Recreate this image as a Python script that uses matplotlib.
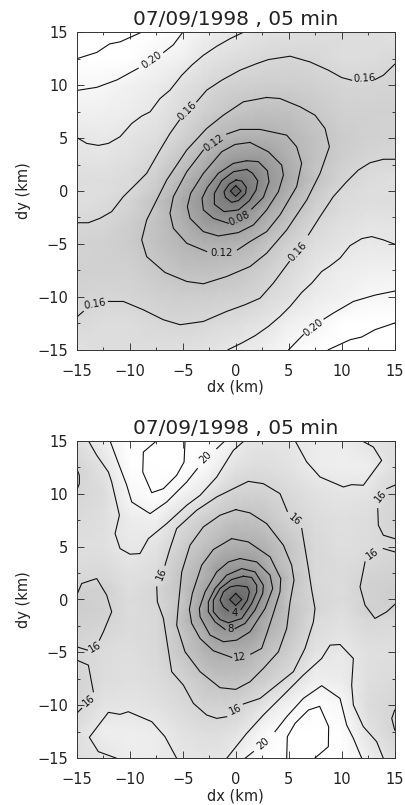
import numpy as np
import matplotlib
matplotlib.use("Agg")
import matplotlib.pyplot as plt
from matplotlib.ticker import MultipleLocator

title = "07/09/1998 , 05 min"
grid_x = [-15, -12.5, -10, -7.5, -5, -3, -2, -1, 0, 1, 2, 3, 5, 7.5, 10, 12.5, 15]
grid_y = [15, 12.5, 10, 7.5, 5, 3, 2, 1, 0, -1, -2, -3, -5, -7.5, -10, -12.5, -15]

# upper panel, gray field, rows go from dy=15 down to dy=-15
field_top = [
    [.24, .23, .225, .215, .20, .19, .186, .183, .18, .178, .175, .173, .17, .168, .167, .167, .172],
    [.22, .213, .21, .197, .19, .177, .173, .17, .167, .165, .163, .16, .158, .161, .167, .167, .162],
    [.201, .199, .192, .186, .172, .163, .157, .154, .152, .15, .149, .148, .148, .152, .157, .158, .156],
    [.19, .19, .187, .178, .163, .15, .145, .141, .137, .134, .132, .131, .132, .142, .152, .152, .152],
    [.18, .182, .176, .168, .152, .135, .125, .118, .114, .112, .112, .112, .118, .133, .146, .152, .154],
    [.174, .176, .17, .159, .136, .113, .10, .09, .085, .082, .081, .087, .11, .133, .148, .158, .16],
    [.17, .172, .166, .153, .128, .103, .09, .075, .063, .06, .066, .08, .106, .137, .153, .163, .166],
    [.167, .168, .164, .148, .118, .09, .07, .052, .04, .048, .058, .077, .103, .133, .155, .166, .17],
    [.168, .168, .163, .143, .11, .08, .06, .04, .005, .04, .06, .08, .11, .143, .163, .168, .168],
    [.17, .166, .155, .133, .103, .077, .058, .048, .04, .052, .07, .09, .118, .148, .164, .168, .167],
    [.166, .163, .153, .137, .106, .08, .066, .06, .063, .075, .09, .103, .128, .153, .166, .172, .17],
    [.16, .158, .148, .133, .11, .087, .081, .082, .085, .09, .10, .113, .136, .159, .17, .176, .174],
    [.154, .152, .146, .133, .118, .112, .112, .112, .114, .118, .125, .135, .152, .168, .176, .182, .18],
    [.152, .152, .152, .142, .132, .131, .132, .134, .137, .141, .145, .15, .163, .178, .187, .19, .19],
    [.156, .158, .157, .152, .148, .148, .149, .15, .152, .154, .157, .163, .172, .186, .192, .199, .201],
    [.162, .167, .167, .161, .158, .16, .163, .165, .167, .17, .173, .177, .19, .197, .21, .213, .22],
    [.172, .167, .167, .168, .17, .173, .175, .178, .18, .183, .186, .19, .20, .215, .225, .23, .24],
]

# lower panel, same layout
field_bot = [
    [17, 19, 21, 22, 22, 20.8, 20.4, 20, 19, 18, 17.7, 17.6, 17.9, 18.6, 18.8, 17.8, 16.9],
    [15.7, 17.5, 20.8, 22.5, 21.9, 20.3, 19.4, 18.2, 17.4, 17, 16.8, 16.9, 17.4, 18.6, 19, 18.9, 17],
    [15.9, 16.7, 20, 21.5, 19.5, 18, 16.8, 16, 15.6, 15.4, 15.4, 15.6, 16.4, 17.3, 17.7, 17.5, 15.8],
    [16.5, 17, 18.6, 19, 16.5, 15, 14.4, 13.8, 13.3, 13.3, 13.5, 14.1, 15.6, 16.7, 17.2, 16.8, 15.5],
    [17, 17.2, 18.3, 17.5, 15, 13.4, 12.5, 11.4, 11, 11, 11.2, 11.9, 14, 16.3, 17, 16.6, 16.2],
    [16.6, 16.4, 17.5, 16.8, 13.9, 11.6, 9.6, 8.7, 8.3, 8.2, 9, 10.8, 13.7, 16.3, 16.7, 16, 15.4],
    [16.4, 16.2, 17.2, 16.6, 13.5, 11.1, 9.8, 7.6, 6, 5.8, 7.5, 9.5, 13, 16.3, 16.6, 15.5, 15.3],
    [15.4, 15.2, 17, 15.9, 13.5, 10.2, 7.8, 4.9, 3.9, 4, 6.1, 9, 13.6, 16.2, 16.8, 15.3, 15],
    [15, 15.6, 16.6, 16, 13.8, 9.6, 7, 3.7, 1, 3.7, 7, 9.6, 13.8, 16, 16.6, 15.6, 15],
    [15, 15.3, 16.8, 16.2, 13.6, 9, 6.1, 4, 3.9, 4.9, 7.8, 10.2, 13.5, 15.9, 17, 15.2, 15.4],
    [15.3, 15.5, 16.6, 16.3, 13, 9.5, 7.5, 5.8, 6, 7.6, 9.8, 11.1, 13.5, 16.6, 17.2, 16.2, 16.4],
    [15.4, 16, 16.7, 16.3, 13.7, 10.8, 9, 8.2, 8.3, 8.7, 9.6, 11.6, 13.9, 16.8, 17.5, 16.4, 16.6],
    [16.2, 16.6, 17, 16.3, 14, 11.9, 11.2, 11, 11, 11.4, 12.5, 13.4, 15, 17.5, 18.3, 17.2, 17],
    [15.5, 16.8, 17.2, 16.7, 15.6, 14.1, 13.5, 13.3, 13.3, 13.8, 14.4, 15, 16.5, 19, 18.6, 17, 16.5],
    [15.8, 17.5, 17.7, 17.3, 16.4, 15.6, 15.4, 15.4, 15.6, 16, 16.8, 18, 19.5, 21.5, 20, 16.7, 15.9],
    [17, 18.9, 19, 18.6, 17.4, 16.9, 16.8, 17, 17.4, 18.2, 19.4, 20.3, 21.9, 22.5, 20.8, 17.5, 15.7],
    [16.9, 17.8, 18.8, 18.6, 17.9, 17.6, 17.7, 18, 19, 20, 20.4, 20.8, 22, 22, 21, 19, 17],
]

# contour lines, (dx, dy) in km. Open ones stop at the label gaps
top_open = [
    [(-15, 12.5), (-13.1, 13.1), (-11.9, 13.9), (-10.9, 14.1), (-8.9, 15)],
    [(-15, 9.5), (-13.1, 9.8), (-11.2, 10.5), (-9.2, 11.6)],
    [(-6.8, 13.1), (-5.9, 13.8), (-5, 15)],
    [(-15, 5.06), (-14.06, 4.5), (-12.96, 4.31), (-12.01, 4.5), (-10.91, 5.13), (-9.81, 6.38), (-8.87, 7.08),
     (-8.08, 7.48), (-7.14, 8.74), (-6.2, 9.53), (-5.09, 10.94), (-4.15, 11.89), (-3.05, 12.83), (-1.79, 13.68),
     (-0.53, 14.4), (0.72, 15)],
    [(-15, -3), (-13.9, -3), (-12.8, -2.58), (-11.7, -1.95), (-10.6, -0.53), (-9.34, 0.72), (-8.4, 1.67),
     (-7.14, 3.87), (-6.2, 5.44), (-5.31, 6.7)],
    [(-3.68, 8.43), (-2.74, 9.53), (-1.32, 10.47), (0.41, 11.42), (1.98, 12.04), (3.08, 12.42), (5.13, 12.74),
     (7.01, 12.2), (8.74, 11.42), (10, 10.72), (10.94, 10.47)],
    [(13.14, 10.53), (13.93, 10.94), (15, 11.98)],
    [(15, 3), (13.93, 3), (12.67, 2.67), (11.57, 1.98), (10.47, 0.88), (9.21, -0.53), (7.96, -2.42), (6.86, -4.15)],
    [(5.06, -6.67), (3.55, -8.71), (2.3, -10.13), (0.88, -10.75), (-0.85, -11.38), (-3.05, -12.33), (-5.25, -12.64),
     (-6.82, -12.17), (-8.71, -11.23), (-10.6, -10.44), (-12.01, -10.44)],
    [(-14.37, -11.38), (-15, -11.92)],
    [(15, -5.03), (13.93, -4.62), (12.83, -4.31), (11.89, -4.5), (10.79, -5.16), (9.84, -6.35), (8.9, -7.08),
     (8.11, -7.61), (7.17, -8.71), (6.23, -9.59), (5.13, -10.91), (4.18, -11.86), (3.08, -12.8), (1.82, -13.68),
     (0.57, -14.37), (-0.72, -15)],
    [(15, -9.46), (13.14, -9.84), (11.1, -10.44), (9.21, -11.54), (8.33, -12.1)],
    [(6.38, -13.58), (5, -15)],
    [(8.74, -15), (10.79, -14.06), (11.89, -13.8), (13.14, -13.11), (15, -12.48)],
    [(-0.85, 5.38), (0.41, 5.82), (2.3, 5.82), (4.81, 5.28), (5.75, 4.18), (6.22, 2.61), (5.75, 0.41), (4.18, -2.26),
     (2.92, -3.84), (1.35, -4.78), (0.16, -5.57)],
    [(-2.74, -5.72), (-4.62, -4.94), (-5.88, -3.52), (-6.2, -2.11), (-5.88, -0.53), (-4.62, 1.82), (-3.05, 3.87)],
    [(1.04, 2.86), (2.14, 2.77), (2.99, 1.92), (3.14, 0.88), (2.61, -0.6), (1.51, -1.7)],
    [(-0.69, -3.05), (-2.11, -2.58), (-3.05, -1.79), (-3.18, -0.69), (-2.67, 0.35), (-1.64, 1.67), (-0.22, 2.61),
     (1.04, 2.86)],
]
top_closed = [
    [(2.92, 8.84), (4.18, 8.74), (6.07, 7.96), (7.48, 7.17), (8.43, 5.91), (8.84, 4.18), (7.96, 1.67), (6.7, -0.85),
     (4.81, -3.68), (2.92, -5.88), (1.35, -7.14), (-0.85, -8.08), (-3.05, -8.77), (-4.62, -8.55), (-6.67, -7.7),
     (-8.4, -6.2), (-8.87, -4.62), (-8.4, -2.74), (-6.51, 1.04), (-4.62, 3.87), (-2.74, 5.91), (-1.16, 7.17),
     (0.72, 8.43)],
    [(1.35, 4.59), (3.08, 3.71), (4.34, 2.45), (4.5, 1.51), (4.03, -0.06), (2.92, -1.79), (1.67, -3.21), (0.25, -3.93),
     (-1.64, -4.25), (-3.05, -3.84), (-4.31, -2.58), (-4.56, -1.48), (-4.25, -0.22), (-3.05, 1.67), (-1.32, 3.71),
     (-0.06, 4.4)],
    [(1.04, 2.04), (1.6, 1.67), (2.08, 0.97), (1.92, 0.09), (1.29, -0.91), (0.25, -1.79), (-1.1, -1.95), (-2.01, -1.26),
     (-2.01, -0.22), (-1.32, 0.97), (-0.22, 1.82)],
    [(0.03, 1.04), (0.57, 0.94), (1.0, 0.35), (0.94, -0.22), (0.25, -0.91), (-0.38, -1.07), (-0.97, -0.6), (-1.1, -0.06),
     (-0.6, 0.66)],
    [(0, 0.5), (0.5, 0), (0, -0.5), (-0.5, 0)],
]
top_labels = [
    ("0.20", -7.92, 12.36, 35), ("0.20", 7.33, -12.96, 38), ("0.16", -4.53, 7.58, 45), ("0.16", 12.1, 10.63, 3),
    ("0.16", 5.85, -5.72, 48), ("0.16", -13.27, -10.69, 10), ("0.12", -2.04, 4.5, 35), ("0.12", -1.38, -5.82, 0),
    ("0.08", 0.35, -2.58, 25),
]

bot_open = [
    [(-13.9, 15), (-13.11, 13.62), (-12.01, 12.04), (-11.7, 11.1), (-10.97, 7.96), (-11.38, 6.23), (-10.91, 4.81),
     (-9.97, 4.28), (-9.03, 4.34), (-8.24, 5.75), (-6.51, 7.17), (-4.62, 8.9), (-3.36, 9.84), (-1.79, 11.57),
     (-0.22, 14.09), (0.82, 15)],
    [(13.93, -15), (13.3, -13.43), (12.04, -12.01), (11.1, -9.97), (10.94, -8.08), (11.1, -5.57), (9.84, -4.25),
     (8.9, -4.31), (8.11, -5.57), (6.38, -7.14), (4.5, -9.03), (2.61, -10.91), (1.04, -12.64), (-0.85, -15)],
    [(-11.86, 15), (-11.23, 13.3), (-10.28, 10.79), (-9.81, 9.21), (-8.08, 8.11), (-6.51, 9.21), (-4.62, 11.1),
     (-3.62, 12.36)],
    [(-1.79, 14.25), (-1, 15)],
    [(11.89, -15), (11.1, -13.11), (10.47, -11.86), (9.84, -9.34), (8.11, -8.14), (6.38, -9.34), (4.81, -11.07),
     (3.71, -12.48)],
    [(1.67, -14.37), (0.88, -15)],
    [(-7.45, 15), (-8.71, 13.93), (-8.77, 12.04), (-7.92, 10.09), (-6.82, 10.47), (-5.57, 11.73), (-4.87, 12.99),
     (-4.78, 15)],
    [(7.45, -15), (8.74, -13.9), (8.77, -12.01), (7.92, -10.09), (6.86, -10.44), (5.6, -11.7), (4.87, -12.96),
     (4.81, -15)],
    [(5.6, 15), (6.7, 12.99), (7.96, 11.57), (10.16, 10.63), (10.94, 10.85), (12.04, 10.79), (13.77, 13.14),
     (12.99, 14.4), (11.89, 15)],
    [(-5.57, -15), (-6.67, -12.96), (-7.92, -11.54), (-10.13, -10.6), (-10.91, -10.85), (-12.01, -10.66),
     (-13.81, -13.02), (-12.96, -14.37), (-11.23, -15)],
    [(15, 10.79), (14.25, 10.47)],
    [(13.4, 8.58), (13.46, 7.01), (13.93, 6.07), (15, 5.75)],
    [(15, 4.5), (13.93, 4.81)],
    [(12.2, 3.55), (11.73, 1.19), (12.2, -0.53), (13.14, -1.79), (14.25, -1.16), (15, -0.47)],
    [(-15, 0.41), (-14.53, 1.51), (-13.11, 1.98), (-12.17, 0.41), (-11.7, -1.16), (-12.48, -3.05), (-12.86, -3.84)],
    [(-13.99, -4.78), (-15, -4.47)],
    [(-15, -5.72), (-13.9, -6.2), (-13.43, -8.71)],
    [(-14.53, -10.28), (-15, -10.75)],
    [(-15, 12.36), (-14.75, 11.73), (-14.75, 10.94), (-15, 10.31)],
    [(15, -10.44), (14.72, -11.23), (15, -12.33)],
    # 16 loop, in three pieces
    [(-6.67, 3.24), (-6.2, 4.81), (-5.57, 6.7), (-3.68, 8.43), (-1.79, 9.69), (-0.22, 10.47), (1.19, 11.16),
     (2.61, 10.94), (4.18, 10), (4.87, 8.33)],
    [(6.23, 6.7), (6.86, 2.92), (7.17, 0.88), (7.48, -0.85), (7.33, -2.11), (6.54, -4.62), (5.44, -6.82), (3.87, -8.08),
     (2.3, -9.34), (0.72, -9.87)],
    [(-0.85, -11.07), (-1.79, -11.23), (-2.74, -10.91), (-3.99, -9.81), (-4.94, -8.08), (-6.04, -6.82), (-6.82, -1.79),
     (-7.39, -0.22), (-7.45, 1.19)],
    # 12 loop
    [(-0.38, 5.75), (1.19, 5.44), (3.24, 4.03), (4.25, 1.98), (4.18, 0.72), (3.55, -1.32), (2.99, -3.05), (2.45, -4.62),
     (1.42, -5.16)],
    [(-0.38, -5.47), (-2.11, -4.84), (-3.36, -3.68), (-4.15, -2.26), (-4.37, -0.94), (-4.09, 0.57), (-3.21, 3.24),
     (-2.11, 4.72), (-0.38, 5.75)],
    # 8 loop
    [(-0.06, -2.74), (0.88, -2.26), (1.82, -1.0), (2.55, 0.57), (2.61, 1.35), (1.82, 2.61), (0.57, 2.92), (-0.85, 2.3),
     (-1.95, 1.04), (-2.58, -0.22), (-2.58, -1.16), (-1.95, -2.11), (-1.0, -2.83)],
    # 4 loop
    [(0.5, -0.94), (1.1, -0.06), (1.29, 0.72), (1.1, 1.19), (0.16, 1.32), (-0.53, 1.19), (-1.16, 0.72), (-1.48, -0.06),
     (-1.16, -0.69), (-0.69, -1.07)],
]
bot_closed = [
    [(0, 8.49), (1.35, 8.18), (2.92, 7.17), (4.5, 5.13), (5.28, 3.24), (5.5, 1.82), (5.13, -0.22), (4.81, -2.74),
     (4.03, -4.94), (2.61, -6.51), (1.35, -7.77), (0, -8.49), (-1.48, -8.33), (-3.36, -6.82), (-4.78, -4.94),
     (-5.57, -2.42), (-5.41, -0.53), (-5.09, 2.61), (-4.31, 5.13), (-3.05, 6.86), (-1.48, 7.96)],
    [(0.41, 3.87), (1.98, 3.55), (3.24, 2.3), (3.49, 1.04), (2.77, -0.85), (1.35, -3.05), (0.09, -3.84), (-1.16, -3.99),
     (-2.42, -3.36), (-3.36, -1.64), (-3.43, -0.85), (-2.89, 0.72), (-1.79, 2.61), (-0.69, 3.55)],
    [(0.72, 2.2), (1.5, 2.08), (1.98, 1.35), (1.98, 0.72), (1.51, -0.38), (0.57, -1.79), (-0.69, -2.2), (-1.48, -1.89),
     (-2.11, -1.16), (-2.11, -0.06), (-1.48, 1.04), (-0.38, 1.89)],
    [(0, 0.57), (0.57, 0), (0, -0.57), (-0.57, 0)],
]
bot_labels = [
    ("20", -2.83, 13.46, 45), ("20", 2.55, -13.58, 40), ("16", 13.68, 9.78, 50), ("16", 12.92, 4.34, 35),
    ("16", -13.27, -4.47, 30), ("16", -13.81, -9.5, 40), ("16", -7.04, 2.45, 68), ("16", 5.6, 7.48, -40),
    ("16", -0.06, -10.44, 25), ("12", 0.41, -5.47, 8), ("8", -0.53, -2.83, 0), ("4", -0.06, -1.26, 0),
]


def draw_panel(rect, field, vmin, vmax, open_lines, closed_lines, labels):
    ax = fig.add_axes(rect)
    ax.pcolormesh(*np.meshgrid(grid_x, grid_y), np.array(field), cmap="gray", vmin=vmin, vmax=vmax,
                  shading="gouraud", rasterized=True)
    for line in open_lines:
        xs, ys = zip(*line)
        ax.plot(xs, ys, color="#111111", lw=0.8, solid_joinstyle="round")
    for line in closed_lines:
        xs, ys = zip(*(line + line[:1]))
        ax.plot(xs, ys, color="#111111", lw=0.8, solid_joinstyle="round")
    for txt, x, y, rot in labels:
        ax.text(x, y, txt, fontsize=7.3, rotation=rot, ha="center", va="center",
                rotation_mode="anchor", color="#111111")
    ax.set_xlim(-15, 15)
    ax.set_ylim(-15, 15)
    ax.xaxis.set_major_locator(MultipleLocator(5))
    ax.yaxis.set_major_locator(MultipleLocator(5))
    ax.xaxis.set_minor_locator(MultipleLocator(2.5))
    ax.yaxis.set_minor_locator(MultipleLocator(2.5))
    ax.tick_params(which="major", direction="in", top=True, right=True, length=5, width=0.6,
                   labelsize=10.5, color="#222222", labelcolor="#222222")
    ax.tick_params(which="minor", direction="in", top=True, right=True, length=2.5, width=0.6, color="#222222")
    ax.tick_params(axis="x", which="major", pad=10)
    ax.tick_params(axis="y", which="major", pad=6)
    for s in ax.spines.values():
        s.set_linewidth(0.7)
        s.set_color("#333333")
    ax.set_title(title, fontsize=14.5, color="#222222", pad=5)
    ax.set_xlabel("dx (km)", fontsize=10.5, color="#222222", labelpad=1)
    ax.set_ylabel("dy (km)", fontsize=10.5, color="#222222", labelpad=5)
    return ax


W, H = 406, 805
fig = plt.figure(figsize=(W / 100, H / 100), dpi=100)
left, right = 76.7, 394.7
draw_panel([left / W, 1 - 349.7 / H, (right - left) / W, 317.4 / H], field_top, -0.11, 0.21,
           top_open, top_closed, top_labels)
draw_panel([left / W, 1 - 758.3 / H, (right - left) / W, 317.6 / H], field_bot, -10.3, 21,
           bot_open, bot_closed, bot_labels)
fig.savefig("out.png", dpi=100)
